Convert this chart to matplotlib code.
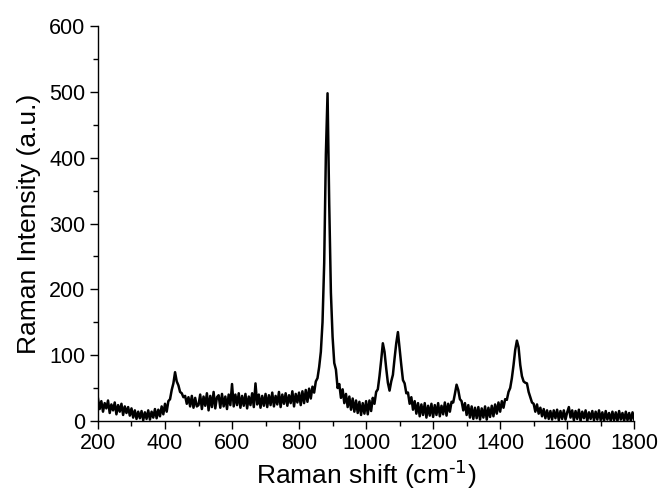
import matplotlib
matplotlib.use("Agg")
import matplotlib.pyplot as plt
import numpy as np
from matplotlib.ticker import MultipleLocator

plt.rcParams['font.family'] = ['Liberation Sans', 'DejaVu Sans']

x_start = 200
x_step = 5

# Raman intensity, one value per 5 cm^-1 from 200 to 1800
intensity = [
    34, 18, 30, 14, 27, 19, 31, 12, 25, 16, 28, 10, 24, 14, 26, 9, 22, 12, 21, 8,        # 200-295
    19, 5, 16, 3, 14, 4, 15, 1, 13, 3, 16, 2, 14, 5, 18, 4, 17, 7, 22, 10,               # 300-395
    26, 14, 30, 33, 47, 57, 74, 60, 54, 44, 42, 36, 38, 26, 36, 22, 38, 20, 35, 22,      # 400-495
    24, 40, 18, 37, 23, 42, 16, 38, 21, 44, 19, 36, 39, 20, 41, 22, 37, 18, 40, 24,      # 500-595
    56, 22, 40, 24, 42, 20, 38, 23, 41, 19, 37, 24, 42, 21, 57, 25, 40, 20, 38, 23,      # 600-695
    41, 21, 39, 24, 43, 22, 38, 25, 44, 21, 40, 26, 42, 23, 39, 27, 45, 22, 41, 28,      # 700-795
    43, 24, 45, 27, 47, 29, 49, 34, 52, 43, 60, 65, 82, 105, 150, 240, 405, 498, 330, 195,  # 800-895
    128, 88, 78, 50, 56, 35, 48, 27, 41, 21, 37, 17, 34, 14, 31, 12, 29, 9, 27, 11,      # 900-995
    30, 10, 31, 15, 35, 26, 44, 48, 68, 92, 118, 105, 80, 58, 46, 60, 70, 95, 118, 135,  # 1000-1095
    110, 85, 62, 57, 42, 43, 26, 36, 17, 30, 11, 27, 7, 25, 9, 27, 5, 23, 8, 26,         # 1100-1195
    6, 24, 9, 27, 7, 23, 10, 28, 8, 26, 14, 29, 28, 41, 55, 47, 33, 30, 16, 27,          # 1200-1295
    9, 24, 5, 22, 3, 20, 4, 21, 2, 19, 5, 22, 2, 20, 6, 23, 7, 25, 11, 28,               # 1300-1395
    14, 30, 20, 33, 32, 44, 50, 65, 85, 108, 122, 112, 85, 68, 60, 58, 57, 44, 36, 28,   # 1400-1495
    26, 14, 25, 11, 20, 7, 18, 4, 16, 3, 15, 2, 16, 4, 17, 1, 15, 3, 16, 2,              # 1500-1595
    13, 21, 5, 16, 1, 15, 3, 17, 0, 14, 4, 16, 0, 13, 3, 15, 1, 14, 2, 16,               # 1600-1695
    1, 13, 0, 15, 2, 12, 0, 14, 1, 13, 0, 15, 2, 12, 0, 14, 1, 12, 0, 13, 2,             # 1700-1800
]
raman_shift = x_start + x_step * np.arange(len(intensity))

x_ticks = [200, 400, 600, 800, 1000, 1200, 1400, 1600, 1800]
y_ticks = [0, 100, 200, 300, 400, 500, 600]

fig = plt.figure(figsize=(6.62, 4.94), dpi=100)
ax = fig.add_axes([0.148, 0.148, 0.810, 0.799])
ax.plot(raman_shift, intensity, color='black', lw=1.8)

ax.set_xlim(200, 1800)
ax.set_ylim(0, 600)
ax.set_xticks(x_ticks)
ax.set_yticks(y_ticks)
ax.xaxis.set_minor_locator(MultipleLocator(100))
ax.yaxis.set_minor_locator(MultipleLocator(50))
ax.spines['top'].set_visible(False)
ax.spines['right'].set_visible(False)
for s in ['left', 'bottom']:
    ax.spines[s].set_linewidth(1.0)
ax.tick_params(which='major', direction='out', length=6, width=1.0, labelsize=15.5, pad=3)
ax.tick_params(which='minor', direction='out', length=3.5, width=1.0)

ax.set_xlabel('Raman shift (cm$^{\\text{-1}}$)', fontsize=19, labelpad=2)
ax.set_ylabel('Raman Intensity (a.u.)', fontsize=19, labelpad=6)

fig.savefig('out.png', dpi=100)
